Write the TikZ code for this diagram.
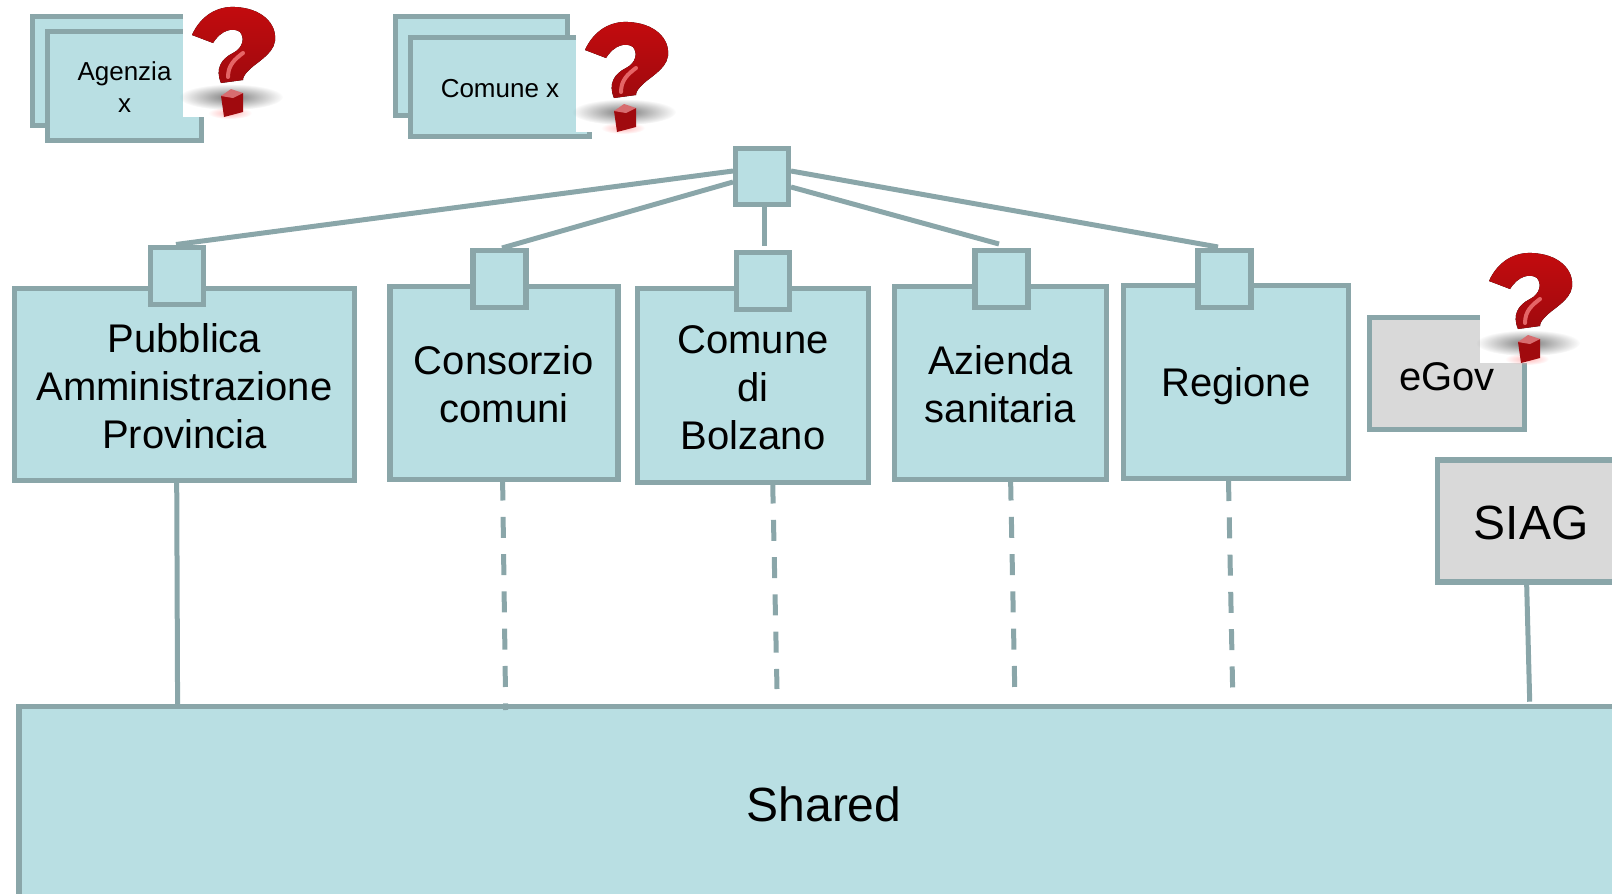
\documentclass[tikz,border=0pt]{standalone}
\usepackage{fontspec}
\setmainfont{Liberation Sans}
\usetikzlibrary{fadings}
\definecolor{boxblue}{HTML}{B9DFE3}
\definecolor{boxline}{HTML}{8AA6A9}
\definecolor{boxgrey}{HTML}{D9D9D9}
\definecolor{qred}{HTML}{BC0C10}
\tikzfading[name=qsoft,inner color=transparent!20,outer color=transparent!100]
\newcommand{\down}[1]{\rule{0pt}{#1}}
\tikzset{
  bluebox/.style={draw=boxline,fill=boxblue,line width=5.5pt,rectangle,align=center,inner sep=0pt,outer sep=0pt},
  greybox/.style={bluebox,fill=boxgrey},
  bigtext/.style={font=\fontsize{40}{48}\selectfont},
  smalltext/.style={font=\fontsize{26}{32.5}\selectfont},
  hugetext/.style={font=\fontsize{48}{56}\selectfont},
  link/.style={draw=boxline,line width=5pt},
  dashlink/.style={link,dash pattern=on 21pt off 16.3pt},
  qmark/.pic={
    % white square behind the mark
    \fill[white] (0,0) rectangle (100,114);
    % shadow
    \fill[black!65,path fading=qsoft] (48,94) ellipse (52 and 13);
    \fill[red!35,path fading=qsoft] (47,110) ellipse (22 and 6);
    % the hook
    \fill[top color=qred!90!red,bottom color=qred!85!black] (9,32) .. controls (18,12) and (35,3) .. (52,4)
      .. controls (78,5) and (94,20) .. (92,38)
      .. controls (90,52) and (72,60) .. (65,68)
      .. controls (61,72) and (60,75) .. (60,77)
      -- (38,80) .. controls (32,66) and (38,56) .. (50,50)
      .. controls (60,45) and (62,35) .. (57,29)
      .. controls (50,24) and (38,27) .. (30,40) -- cycle;
    \draw[red!45!white,line width=4pt,line cap=round,opacity=.7] (60,50) .. controls (52,56) and (45,62) .. (45,74);
    % the dot
    \fill[qred!85!black] (38,93) -- (60,90) -- (60,109) -- (41,114) -- cycle;
    \fill[qred!60!white] (38,93) -- (48,86) -- (60,90) -- (50,95) -- cycle;
  }
}
\begin{document}
\begin{tikzpicture}[x=1pt,y=-1pt]
  \clip (0,0) rectangle (1612,894);

  % Top left stacks
  \node[bluebox,minimum width=155pt,minimum height=109pt] (agenziaback) at (110,71) {};
  \node[bluebox,smalltext,minimum width=154pt,minimum height=109pt] (agenzia) at (124.5,86) {\down{21pt}Agenzia\\x};
  \pic at (183,3) {qmark};
  \node[bluebox,minimum width=172pt,minimum height=99pt] (comunexback) at (481.5,66) {};
  \node[bluebox,smalltext,minimum width=179pt,minimum height=99pt] (comunex) at (500,87) {\down{22pt}Comune x};
  \pic at (576,18) {qmark};

  % Main boxes
  \node[bluebox,bigtext,minimum width=340pt,minimum height=192pt] (pubblica) at (184.5,384.5) {\down{33pt}Pubblica\\Amministrazione\\Provincia};
  \node[bluebox,bigtext,minimum width=228pt,minimum height=193pt] (consorzio) at (504,383) {\down{31.5pt}Consorzio\\comuni};
  \node[bluebox,bigtext,minimum width=231pt,minimum height=194pt] (comune) at (753,385.5) {\down{31.5pt}Comune\\di\\Bolzano};
  \node[bluebox,bigtext,minimum width=212pt,minimum height=193pt] (azienda) at (1000.5,383) {\down{31.5pt}Azienda\\sanitaria};
  \node[bluebox,bigtext,minimum width=225pt,minimum height=193pt] (regione) at (1236,382) {\down{37pt}Regione};
  \node[greybox,bigtext,minimum width=155pt,minimum height=112pt] (egov) at (1447,373.5) {\down{33.5pt}eGov};
  \pic at (1480,249) {qmark};
  \node[greybox,hugetext,minimum width=187pt,minimum height=122pt] (siag) at (1531,521) {\down{37pt}SIAG};
  \node[bluebox,hugetext,minimum width=1610pt,minimum height=195pt] (shared) at (824,804) {Shared};

  % Small squares
  \node[bluebox,minimum width=53pt,minimum height=56pt] (hub) at (762,176.5) {};
  \node[bluebox,minimum width=53pt,minimum height=57pt] (pubblicasq) at (177,276) {};
  \node[bluebox,minimum width=53pt,minimum height=57pt] (consorziosq) at (499.5,279) {};
  \node[bluebox,minimum width=53pt,minimum height=57pt] (comunesq) at (763,281) {};
  \node[bluebox,minimum width=53pt,minimum height=57pt] (aziendasq) at (1001.5,279) {};
  \node[bluebox,minimum width=53pt,minimum height=57pt] (regionesq) at (1224.5,279) {};

  % Lines from the top square
  \draw[link] ([xshift=-2.5pt,yshift=5.5pt]hub.west) -- ([xshift=-1pt,yshift=3pt]pubblicasq.north);
  \draw[link] ([xshift=-2.5pt,yshift=-5.5pt]hub.west) -- ([xshift=2.5pt,yshift=2.5pt]consorziosq.north);
  \draw[link] ([xshift=2pt,yshift=2.5pt]hub.south) -- ([xshift=1pt,yshift=6.5pt]comunesq.north);
  \draw[link] ([xshift=2.5pt,yshift=-10.5pt]hub.east) -- ([xshift=-2.5pt,yshift=6.5pt]aziendasq.north);
  \draw[link] ([xshift=2.5pt,yshift=5.5pt]hub.east) -- ([xshift=-6.5pt,yshift=3.5pt]regionesq.north);

  % Lines down to the shared box
  \draw[link] ([xshift=-7.8pt]pubblica.south) -- ([xshift=-646.4pt,yshift=-1pt]shared.north);
  \draw[dashlink] ([xshift=-1.4pt]consorzio.south) -- ([xshift=-318.3pt,yshift=-3.5pt]shared.north);
  \draw[dashlink] ([xshift=19.7pt]comune.south) -- ([xshift=-47pt,yshift=17.5pt]shared.north);
  \draw[dashlink] ([xshift=10.1pt]azienda.south) -- ([xshift=190.7pt,yshift=19.5pt]shared.north);
  \draw[dashlink] ([xshift=-7.5pt,yshift=-1.5pt]regione.south) -- ([xshift=408.6pt,yshift=18.5pt]shared.north);
  \draw[link] ([xshift=-4.4pt]siag.south) -- ([xshift=705.7pt,yshift=4.8pt]shared.north);
\end{tikzpicture}
\end{document}
